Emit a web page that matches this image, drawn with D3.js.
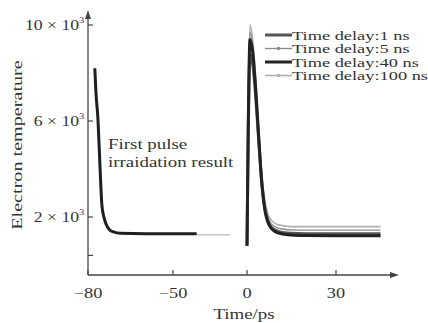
<!DOCTYPE html>
<html>
<head>
<meta charset="utf-8">
<script src="https://cdn.jsdelivr.net/npm/d3@7"></script>
<style>
  body { margin: 0; background: #fff; }
  text { font-family: "Liberation Serif", "DejaVu Serif", serif; fill: #333; }
</style>
</head>
<body>
<div id="chart"></div>
<script>
// values in units of 10^3 K, time in ps
const firstTime = [-77.6, -77.2, -76.5, -75.8, -75.1, -74.4, -73.6, -72.5, -71, -68.5, -60, -50, -34];
const firstTemp = [8.2, 7.2, 6.1, 4.2, 2.5, 2.0, 1.7, 1.48, 1.38, 1.32, 1.3, 1.3, 1.3];
const gapTime = [-34, -11.5];
const gapTemp = [1.26, 1.26];

const time = [0, 0.4, 1, 2, 3, 4, 5, 6, 7, 8, 10, 12, 15, 20, 30, 45];
const delay100 = [0.8, 6.0, 10.0, 9.3, 7.7, 5.7, 3.8, 2.7, 2.15, 1.9, 1.7, 1.64, 1.6, 1.6, 1.6, 1.6];
const delay5 = [0.8, 5.8, 9.7, 9.0, 7.4, 5.4, 3.6, 2.5, 2.0, 1.75, 1.56, 1.5, 1.46, 1.45, 1.45, 1.45];
const delay1 = [0.8, 5.2, 8.8, 8.3, 6.9, 5.1, 3.4, 2.4, 1.85, 1.6, 1.42, 1.36, 1.32, 1.3, 1.3, 1.3];
const delay40 = [0.8, 5.6, 9.4, 8.8, 7.2, 5.2, 3.4, 2.3, 1.8, 1.55, 1.36, 1.29, 1.25, 1.23, 1.22, 1.22];

const legendLabels = ["Time delay:1 ns", "Time delay:5 ns", "Time delay:40 ns", "Time delay:100 ns"];
const xTicks = [-80, -50, 0, 30];
const yTicks = [0.4, 2, 6, 10];

const width = 428, height = 323;

const svg = d3.select("#chart").append("svg")
    .attr("width", width)
    .attr("height", height);

// broken time axis: the -50..0 stretch is squeezed
const x = d3.scaleLinear()
    .domain([-80, -50, 0, 30])
    .range([88, 173, 247, 336]);

const y = d3.scaleLinear()
    .domain([2, 10])
    .range([217, 25]);

const axisColor = "#444";

// the source typeface is wide, so text gets stretched sideways
function label(g, px, py, str, size, anchor, sx) {
    return g.append("text")
        .attr("transform", `translate(${px},${py}) scale(${sx || 1.22},1)`)
        .attr("text-anchor", anchor || "start")
        .attr("font-size", size)
        .text(str);
}

// axes lines with arrows
svg.append("line")
    .attr("x1", 88).attr("x2", 88)
    .attr("y1", 275).attr("y2", 16)
    .attr("stroke", axisColor).attr("stroke-width", 1.3);
svg.append("path")
    .attr("d", "M88,10 L85,19 L91,19 Z")
    .attr("fill", axisColor);
svg.append("line")
    .attr("x1", 88).attr("x2", 392)
    .attr("y1", 275).attr("y2", 275)
    .attr("stroke", axisColor).attr("stroke-width", 1.3);
svg.append("path")
    .attr("d", "M399,275 L390,272 L390,278 Z")
    .attr("fill", axisColor);

// x ticks
const xg = svg.append("g");
xTicks.forEach(t => {
    xg.append("line")
        .attr("x1", x(t)).attr("x2", x(t))
        .attr("y1", 275).attr("y2", 270)
        .attr("stroke", axisColor).attr("stroke-width", 1.2);
    label(xg, x(t), 298, t < 0 ? "\u2212" + Math.abs(t) : t, 15, "middle");
});

// y ticks
const yg = svg.append("g");
yTicks.forEach(v => {
    yg.append("line")
        .attr("x1", 88).attr("x2", 93)
        .attr("y1", y(v)).attr("y2", y(v))
        .attr("stroke", axisColor).attr("stroke-width", 1.2);
    if (v >= 1) {
        const t = label(yg, 84, y(v) + 5, null, 14.5, "end");
        t.append("tspan").text(v + " \u00d7 10");
        t.append("tspan").attr("font-size", 8).attr("dy", -7).text("3");
    }
});

svg.append("text")
    .attr("transform", "translate(22,145) rotate(-90) scale(1.3,1)")
    .attr("text-anchor", "middle")
    .attr("font-size", 15.5)
    .text("Electron temperature");

label(svg, 244, 319, "Time/ps", 15.5, "middle");

const line = d3.line()
    .x(d => x(d[0]))
    .y(d => y(d[1]))
    .curve(d3.curveMonotoneX);

const zip = (a, b) => a.map((v, i) => [v, b[i]]);

// first pulse
svg.append("path")
    .attr("d", line(zip(gapTime, gapTemp)))
    .attr("fill", "none").attr("stroke", "#c4c4c4").attr("stroke-width", 1.5);
svg.append("path")
    .attr("d", line(zip(firstTime, firstTemp)))
    .attr("fill", "none").attr("stroke", "#1e1e1e").attr("stroke-width", 3);

const series = [
    { name: legendLabels[0], values: delay1, color: "#555", w: 3, dot: false },
    { name: legendLabels[1], values: delay5, color: "#8a8a8a", w: 1.3, dot: true },
    { name: legendLabels[2], values: delay40, color: "#222", w: 3, dot: false },
    { name: legendLabels[3], values: delay100, color: "#b0b0b0", w: 1.6, dot: true }
];

// draw light ones first
[3, 1, 0, 2].forEach(i => {
    const s = series[i];
    svg.append("path")
        .attr("d", line(zip(time, s.values)))
        .attr("fill", "none")
        .attr("stroke", s.color)
        .attr("stroke-width", s.w);
});

label(svg, 108, 149, "First pulse", 15.5);
label(svg, 108, 167, "irraidation result", 15.5);

// legend
const lg = svg.append("g");
series.forEach((s, i) => {
    const ly = 35 + i * 13.5;
    lg.append("line")
        .attr("x1", 265).attr("x2", 292)
        .attr("y1", ly).attr("y2", ly)
        .attr("stroke", s.color).attr("stroke-width", s.w);
    if (s.dot) {
        lg.append("circle")
            .attr("cx", 278.5).attr("cy", ly).attr("r", 1.8)
            .attr("fill", s.color);
    }
    label(lg, 292, ly + 4.5, s.name, 13.5, "start", 1.36);
});
</script>
</body>
</html>
